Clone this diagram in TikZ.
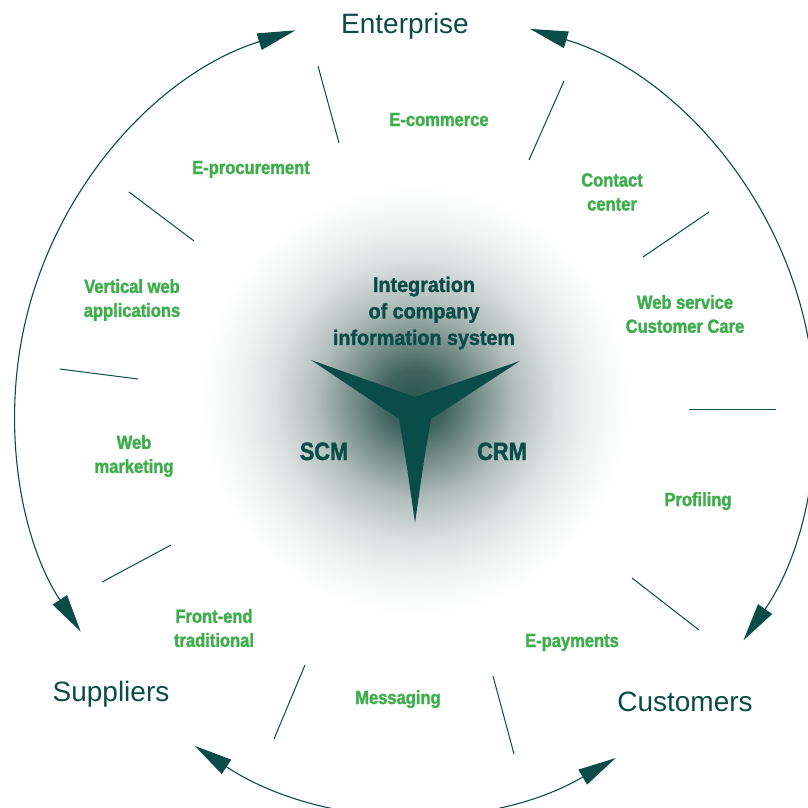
\documentclass[tikz,border=0pt]{standalone}
\usepackage{fontspec}
\setmainfont{Liberation Sans}
\newfontfamily\condf[FakeStretch=0.87, FakeBold=1.6]{Liberation Sans}
\newfontfamily\condc[FakeStretch=0.94, FakeBold=1.6]{Liberation Sans}
\usetikzlibrary{arrows.meta,calc}
\definecolor{teal1}{HTML}{0A4D48}
\definecolor{lgreen}{HTML}{3DAE4B}
\definecolor{gz}{HTML}{2C5653}
\definecolor{ga}{HTML}{3F625F}
\definecolor{gb}{HTML}{748C89}
\definecolor{gc}{HTML}{B2BFBD}
\definecolor{gd}{HTML}{DAE1E0}
\definecolor{ge}{HTML}{F2F5F4}
\pgfdeclareradialshading{glow}{\pgfpoint{0bp}{0bp}}{color(0bp)=(gz); color(3.5bp)=(ga); color(7bp)=(gb); color(11.6bp)=(gc); color(16.3bp)=(gd); color(20.9bp)=(ge); color(25bp)=(white); color(50bp)=(white)}
\tikzset{
  glabel/.style={text=lgreen, font=\condf\bfseries\fontsize{19}{24}\selectfont, align=center, inner sep=0pt},
  olabel/.style={text=teal1, font=\fontsize{28}{32}\selectfont, inner sep=0pt, anchor=base},
  clabel/.style={text=teal1, font=\condc\bfseries\fontsize{21}{26.5}\selectfont, align=center, inner sep=0pt},
  slabel/.style={text=teal1, font=\condf\bfseries\fontsize{25}{30}\selectfont, inner sep=0pt, anchor=base},
  ring/.style={draw=teal1, line width=1.1pt, {Triangle[length=38pt,width=17pt]}-{Triangle[length=38pt,width=17pt]}},
  sepline/.style={draw=teal1, line width=1pt}
}
\begin{document}
\begin{tikzpicture}[x=1pt,y=-1pt]
\useasboundingbox (0,0) rectangle (807,808);
\fill[white] (0,0) rectangle (807,808);
% central glow
\shade[shading=glow] (415,400) circle[radius=215];
% three-armed star
\fill[teal1] (311,360) -- (415,397) -- (520,361) -- (431,419)
  .. controls (424,460) .. (415,523)
  .. controls (406,460) .. (399,419) -- cycle;
% ring arcs
\coordinate (c) at (415,412);
\coordinate (aA) at ($(c)+(-107.4:400)$);
\coordinate (aB) at ($(c)+(-236.6:400)$);
\coordinate (aC) at ($(c)+(-73.3:400)$);
\draw[ring] (aA) arc[start angle=-107.4, end angle=-213.3, radius=400];
\draw[ring] (aB) arc[start angle=-236.6, end angle=-300.1, radius=400];
\draw[ring] (aC) arc[start angle=-73.3, end angle=34.8, radius=400];
% separators
\draw[sepline] (318,66) -- (339,143);
\draw[sepline] (564,81) -- (529,160);
\draw[sepline] (709,212) -- (643,257);
\draw[sepline] (689,409) -- (776,409);
\draw[sepline] (632,578) -- (699,630);
\draw[sepline] (493,676) -- (514,754);
\draw[sepline] (305,665) -- (274,739);
\draw[sepline] (171,545) -- (102,582);
\draw[sepline] (60,369) -- (138,379);
\draw[sepline] (129,192) -- (194,241);
% outer labels
\node[olabel] (ent) at (405,34) {Enterprise};
\node[olabel] (sup) at (111,701) {Suppliers};
\node[olabel] (cus) at (685,711) {Customers};
% green labels
\node[glabel,anchor=base] (ecom) at (439,126) {E-commerce};
\node[glabel,anchor=base] (eproc) at (251,174) {E-procurement};
\node[glabel] (cc) at (612,192) {Contact\\center};
\node[glabel] (wscc) at (685,314) {Web service\\Customer Care};
\node[glabel,anchor=base] (prof) at (698,506) {Profiling};
\node[glabel,anchor=base] (epay) at (572,647) {E-payments};
\node[glabel,anchor=base] (msg) at (398,704) {Messaging};
\node[glabel] (fe) at (214,628) {Front-end\\traditional};
\node[glabel] (wm) at (134,456) {Web\\marketing};
\node[glabel] (vwa) at (132,300) {Vertical web\\applications};
% centre labels
\node[clabel] (integ) at (424,313) {Integration\\of company\\information system};
\node[slabel] (scm) at (324,460) {SCM};
\node[slabel] (crm) at (502,460) {CRM};
\end{tikzpicture}
\end{document}
